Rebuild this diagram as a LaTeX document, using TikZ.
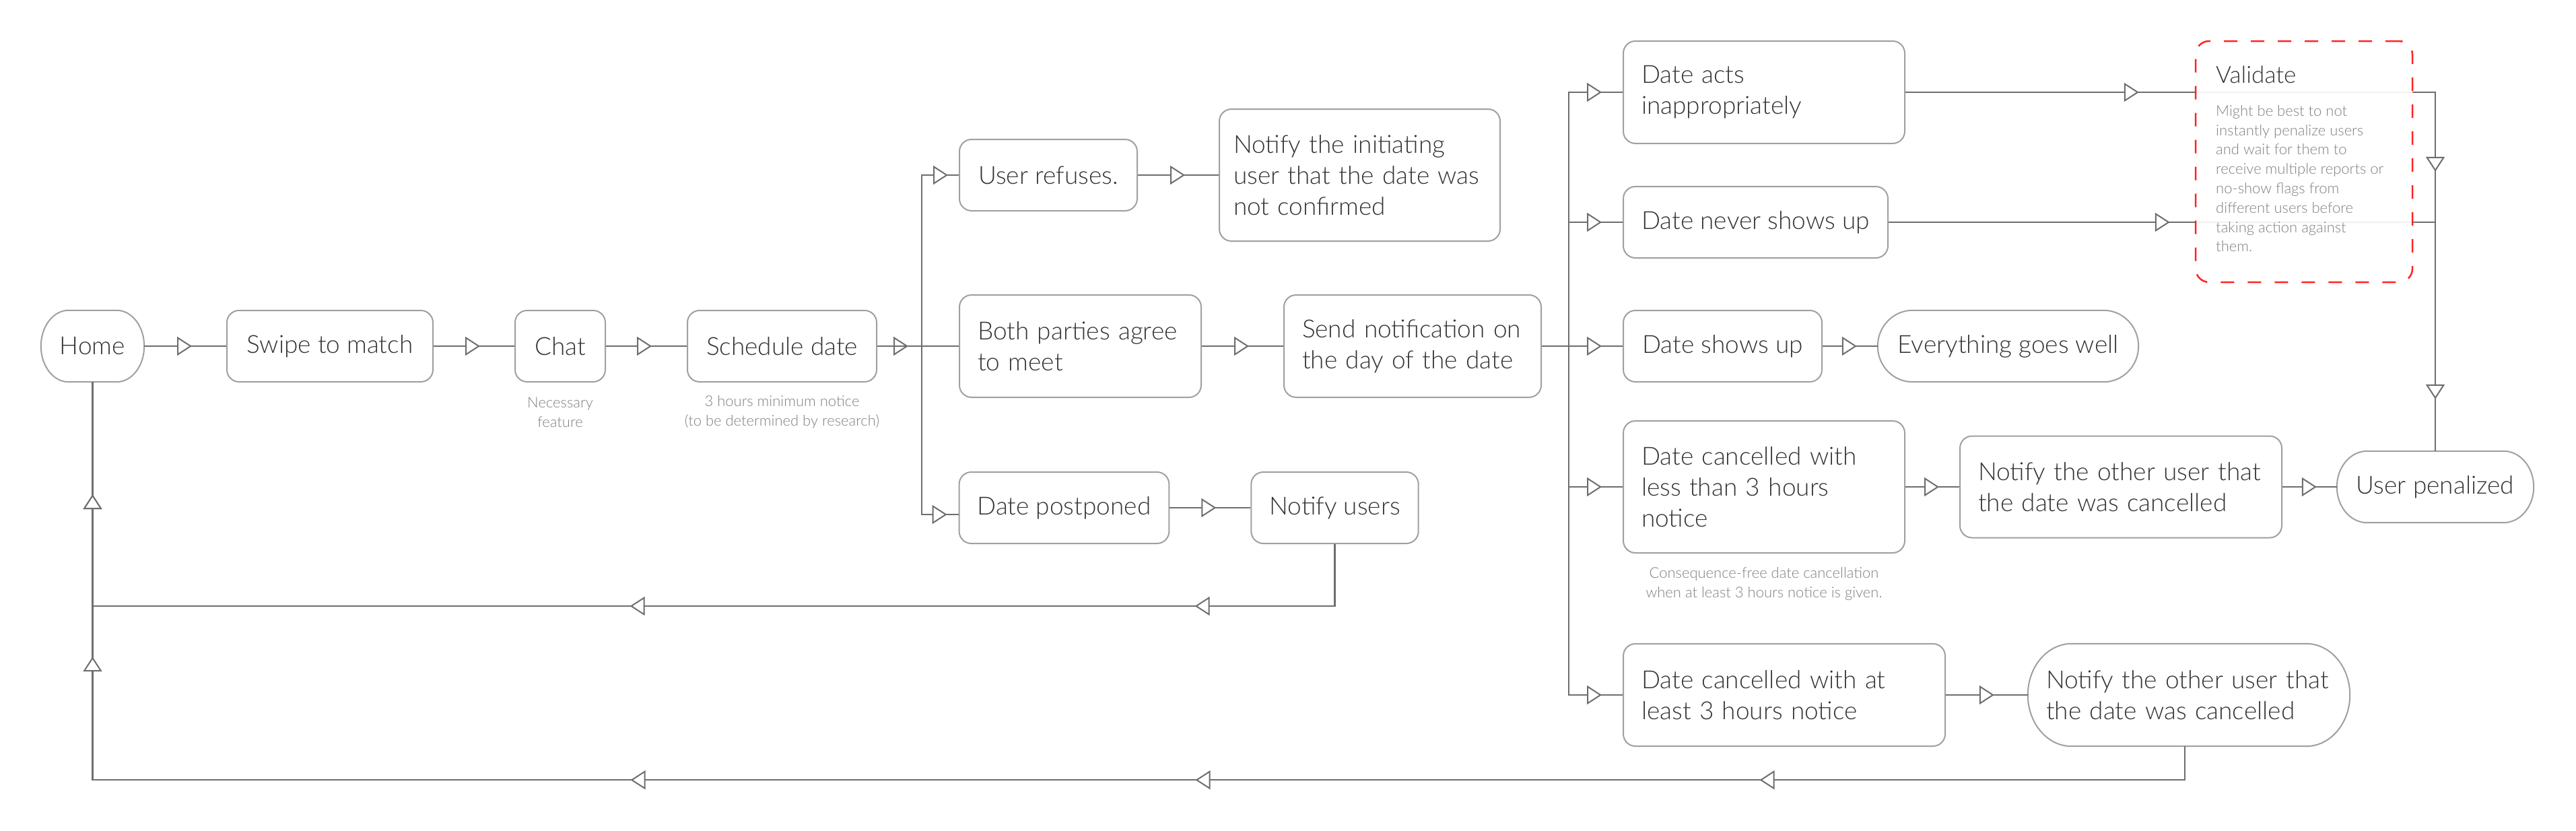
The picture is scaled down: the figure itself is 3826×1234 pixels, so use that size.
\documentclass[tikz,border=0pt]{standalone}
\usepackage{fontspec}
\setmainfont{Lato Light}
\usetikzlibrary{arrows.meta,decorations.markings,calc}
\definecolor{linec}{HTML}{6E6E6E}
\definecolor{boxc}{HTML}{A0A0A0}
\definecolor{textc}{HTML}{333333}
\definecolor{notec}{HTML}{808080}
\definecolor{valred}{HTML}{FF2222}
\newcommand\stadout[2]{%
  \draw[boxline] let \p1=(#1.north west), \p2=(#1.south east), \n1={(\y1-\y2)/2} in
    ([xshift=#2 pt]#1.north west) -- ([xshift=-#2 pt]#1.north east)
    arc[start angle=90, end angle=-90, x radius=#2 pt, y radius=\n1]
    -- ([xshift=#2 pt]#1.south west)
    arc[start angle=270, end angle=90, x radius=#2 pt, y radius=\n1] -- cycle;}
\tikzset{
  tri/.tip={Triangle[length=22pt,width=28pt,color=linec,fill=white,line width=2pt]},
  boxline/.style={draw=boxc, line width=2pt},
  box/.style={draw=boxc, line width=2pt, rounded corners=18pt, fill=white, text=textc,
    font=\fontsize{37}{46}\selectfont, inner xsep=27pt, inner ysep=0pt, align=left},
  stadn/.style={draw=none, text=textc, font=\fontsize{37}{46}\selectfont,
    inner xsep=27pt, inner ysep=0pt, align=left},
  conn/.style={draw=linec, line width=2.5pt},
  am/.style={postaction={decorate,decoration={markings,mark=at position #1 with {\arrow{tri}}}}},
  note/.style={text=notec, font=\fontsize{22}{29}\selectfont, align=center, inner sep=0pt},
}
\begin{document}
\begin{tikzpicture}[x=1pt,y=-1pt]
\useasboundingbox[fill=white] (0,0) rectangle (3826,1234);
% nodes
\node[stadn, align=center, minimum width=153pt, minimum height=106pt] (home) at (137.5,514) {Home};
\node[box, align=center, minimum width=306pt, minimum height=106pt] (swipe) at (490,514) {Swipe to match};
\node[box, align=center, minimum width=134pt, minimum height=106pt] (chat) at (832,514) {Chat};
\node[box, align=center, minimum width=281pt, minimum height=106pt] (sched) at (1161.5,514) {Schedule date};
\node[box, align=center, minimum width=264pt, minimum height=106pt] (refuse) at (1557,260) {User refuses.};
\node[box, inner xsep=21pt, text width=375pt, minimum height=196pt] (notinit) at (2019.5,260) {Notify the initiating\\user that the date was\\not confirmed};
\node[box, text width=305pt, minimum height=152pt] (both) at (1604.5,514) {Both parties agree\\to meet};
\node[box, text width=328pt, minimum height=152pt] (send) at (2098,514) {Send notification on\\the day of the date};
\node[box, align=center, minimum width=311pt, minimum height=106pt] (postp) at (1580.5,754) {Date postponed};
\node[box, align=center, minimum width=247pt, minimum height=106pt] (nusers) at (1982.5,754) {Notify users};
\node[box, text width=364pt, minimum height=152pt] (dacts) at (2620,137) {Date acts\\inappropriately};
\node[box, align=center, minimum width=393pt, minimum height=106pt] (dnever) at (2607.5,330) {Date never shows up};
\node[box, align=center, minimum width=295pt, minimum height=106pt] (dshows) at (2558.5,514) {Date shows up};
\node[stadn, align=center, minimum width=387pt, minimum height=106pt] (every) at (2982.5,514) {Everything goes well};
\node[box, text width=364pt, minimum height=196pt] (dless) at (2620,723) {Date cancelled with\\less than 3 hours\\notice};
\node[box, text width=424pt, minimum height=151pt] (nother1) at (3150,723) {Notify the other user that\\the date was cancelled};
\node[stadn, align=center, minimum width=292pt, minimum height=106pt] (upen) at (3617,723) {User penalized};
\node[box, text width=424pt, minimum height=152pt] (dleast) at (2650,1032) {Date cancelled with at\\least 3 hours notice};
\node[stadn, text width=424pt, minimum height=152pt] (nother2) at (3251,1032) {Notify the other user that\\the date was cancelled};
% stadium outlines
\stadout{home}{41}
\stadout{every}{52}
\stadout{upen}{45}
\stadout{nother2}{65}
% notes
\node[note] (chatnote) at (832,612) {Necessary\\feature};
\node[note] (schednote) at (1161.5,612) {3 hours minimum notice\\(to be determined by research)};
\node[note] (consnote) at (2620,867) {Consequence-free date cancellation\\when at least 3 hours notice is given.};
% connectors
\draw[conn, am=-51pt] (home.east) -- (swipe.west);
\draw[conn, am=-51pt] (swipe.east) -- (chat.west);
\draw[conn, am=-52pt] (chat.east) -- (sched.west);
\draw[conn, am=-75pt] (sched.east) -- (both.west);
\draw[conn, am=-16pt] (sched.east) -- ++(66,0) |- (refuse.west);
\draw[conn, am=-17pt] (sched.east) -- ++(66,0) |- ([yshift=-10pt]postp.west);
\draw[conn, am=-50pt] (refuse.east) -- (notinit.west);
\draw[conn, am=-51pt] (both.east) -- (send.west);
\draw[conn, am=-51pt] (postp.east) -- (nusers.west);
\draw[conn, am=-1970pt, am=-1131pt, am=-167pt] (nusers.south) -- ++(0,92) -| (home.south);
\draw[conn, am=-31pt] (send.east) -- ++(40,0) |- (dacts.west);
\draw[conn, am=-31pt] (send.east) -- ++(40,0) |- (dnever.west);
\draw[conn, am=-31pt] (send.east) -- (dshows.west);
\draw[conn, am=-31pt] (send.east) -- ++(40,0) |- (dless.west);
\draw[conn, am=-31pt] (send.east) -- ++(40,0) |- (dleast.west);
\draw[conn, am=-973pt, am=-415pt] (dacts.east) -| (upen.north);
\draw[conn, am=-734pt, am=-77pt] (dnever.east) -| (upen.north);
\draw[conn, am=-31pt] (dshows.east) -- (every.west);
\draw[conn, am=-30pt] (dless.east) -- (nother1.west);
\draw[conn, am=-30pt] (nother1.east) -- (upen.west);
\draw[conn, am=-50pt] (dleast.east) -- (nother2.west);
\draw[conn, am=-3067pt, am=-2229pt, am=-1390pt, am=-408pt, am=-167pt] ([xshift=-6pt]nother2.south) -- ++(0,50) -| (home.south);
% validate container
\node[draw=valred, line width=2.5pt, dash pattern=on 20pt off 20pt, rounded corners=20pt,
  fill=white, fill opacity=0.9, minimum width=322pt, minimum height=358pt] (val) at (3422,240) {};
\node[anchor=base west, inner sep=0pt, text=textc, font=\fontsize{35}{42}\selectfont] (valt) at (3291,123) {Validate};
\node[anchor=north west, inner sep=0pt, align=left, text=notec, font=\fontsize{22}{28.8}\selectfont] (valn) at (3291,156)
  {Might be best to not\\instantly penalize users\\and wait for them to\\receive multiple reports or\\no-show flags from\\different users before\\taking action against\\them.};
\end{tikzpicture}
\end{document}
